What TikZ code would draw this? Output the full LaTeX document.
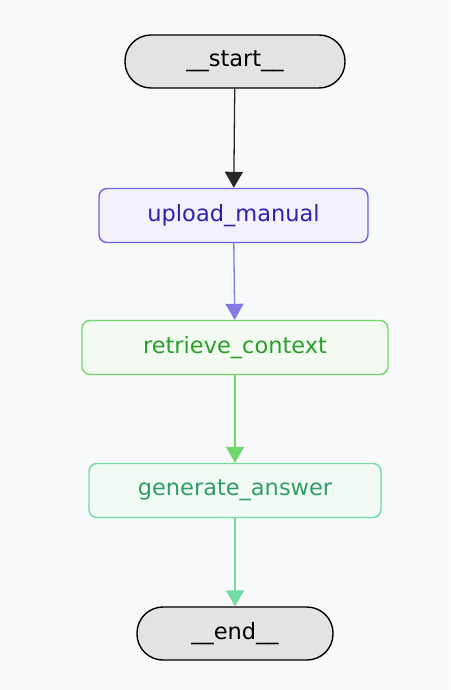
\documentclass[tikz,border=0pt]{standalone}
\usepackage{fontspec}
\setmainfont{DejaVu Sans}
\usetikzlibrary{arrows.meta}

\definecolor{fond}{HTML}{F8F9FB}
\definecolor{gris}{HTML}{E2E3E5}
\definecolor{violet}{HTML}{6E62E0}
\definecolor{violetfond}{HTML}{F2F1FC}
\definecolor{violettexte}{HTML}{2B22AE}
\definecolor{vert}{HTML}{6FD66A}
\definecolor{vertfond}{HTML}{F3FAF2}
\definecolor{verttexte}{HTML}{2A9F2A}
\definecolor{menthe}{HTML}{72DBA0}
\definecolor{menthefond}{HTML}{F2FAF6}
\definecolor{menthetexte}{HTML}{2F9E62}

\begin{document}
\begin{tikzpicture}[x=1pt,y=-1pt]
		\tikzstyle{borne} = [draw=black,fill=gris,line width=1.4pt,rounded corners=26pt,minimum height=53pt,font=\fontsize{22.5}{26}\selectfont]
		\tikzstyle{etape} = [line width=1.4pt,rounded corners=8pt,minimum height=54pt,font=\fontsize{22.5}{26}\selectfont]
		\tikzstyle{fleche} = [-{Triangle[width=18pt,length=16pt]},line width=1.3pt]
		
		\fill[fond] (0,0) rectangle (450,690);
		
		\node[borne,minimum width=220pt](debut) at (235,61.5) {\_\_start\_\_};
		\node[etape,draw=violet,fill=violetfond,text=violettexte,minimum width=269pt](upload) at (233.5,215.5) {upload\_manual};
		\node[etape,draw=vert,fill=vertfond,text=verttexte,minimum width=306pt](retrieve) at (235,347.5) {retrieve\_context};
		\node[etape,draw=menthe,fill=menthefond,text=menthetexte,minimum width=292pt](generate) at (235,490.5) {generate\_answer};
		\node[borne,minimum width=196pt](fin) at (235,633.5) {\_\_end\_\_};
		
		\draw[fleche,draw=black!85] (debut) -- (upload);
		\draw[fleche,draw=violet!85,fill=violet] (upload) -- (retrieve);
		\draw[fleche,draw=vert,fill=vert!90!black] (retrieve) -- (generate);
		\draw[fleche,draw=menthe,fill=menthe!90!black] (generate) -- (fin);
		
		\end{tikzpicture}
\end{document}
